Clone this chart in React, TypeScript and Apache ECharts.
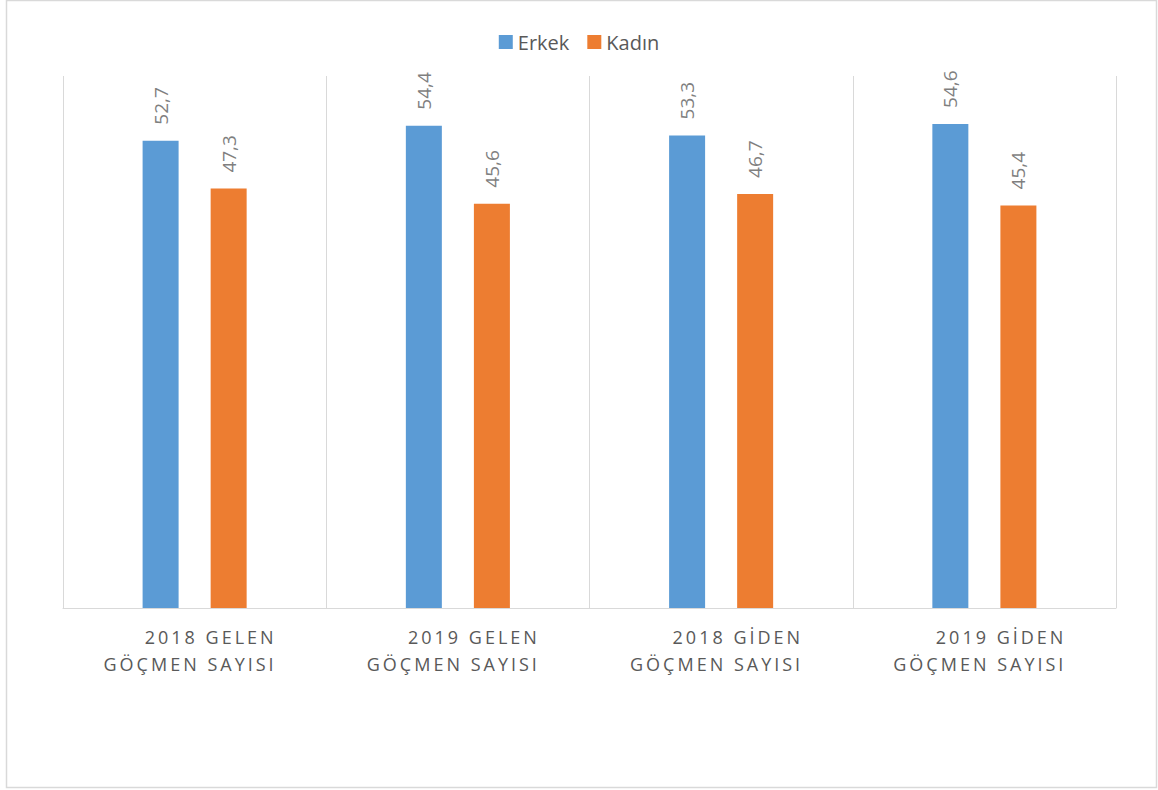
import React, { useEffect, useRef } from "react";
import * as echarts from "echarts";

const categories = [
  "2018 GELEN\nGÖÇMEN SAYISI",
  "2019 GELEN\nGÖÇMEN SAYISI",
  "2018 GİDEN\nGÖÇMEN SAYISI",
  "2019 GİDEN\nGÖÇMEN SAYISI",
];
const seriesNames = ["Erkek", "Kadın"];
const erkek = [52.7, 54.4, 53.3, 54.6];
const kadin = [47.3, 45.6, 46.7, 45.4];

const FONT = "'Open Sans', 'Noto Sans', sans-serif";

export default function App() {
  const ref = useRef<HTMLDivElement>(null);

  useEffect(() => {
    const el = ref.current;
    if (!el) return;
    const chart = echarts.init(el, undefined, { renderer: "svg" });

    const labelLines = new Set<string>();
    categories.forEach((c) => c.split("\n").forEach((l) => labelLines.add(l)));

    const fmt = (p: any) => String(p.value).replace(".", ",");
    const barLabel = {
      show: true,
      position: "top",
      rotate: 90,
      align: "left",
      verticalAlign: "middle",
      distance: 16,
      fontSize: 19,
      fontFamily: FONT,
      color: "#7f7f7f",
      formatter: fmt,
    };

    const option: any = {
      animation: false,
      backgroundColor: "#ffffff",
      textStyle: { fontFamily: FONT },
      graphic: [
        {
          type: "rect",
          shape: { x: 6.5, y: 0.5, width: 1150, height: 787 },
          style: { fill: "none", stroke: "#d9d9d9", lineWidth: 1.5 },
          silent: true,
        },
      ],
      legend: {
        data: seriesNames,
        top: 27,
        left: "center",
        icon: "rect",
        itemWidth: 14,
        itemHeight: 14,
        itemGap: 18,
        textStyle: { fontSize: 20, color: "#595959", fontFamily: FONT },
      },
      grid: { left: 63, right: 42, top: 76, bottom: 182, containLabel: false },
      xAxis: {
        type: "category",
        data: categories,
        axisTick: { show: false },
        axisLine: { show: true, lineStyle: { color: "#d9d9d9", width: 1 } },
        splitLine: { show: true, lineStyle: { color: "#d9d9d9", width: 1 } },
        axisLabel: {
          interval: 0,
          margin: 15,
          align: "center",
          width: 164,
          formatter: (v: string) =>
            v
              .split("\n")
              .map((l) => `{r|${l}}`)
              .join("\n"),
          rich: {
            r: {
              align: "right",
              fontSize: 18,
              lineHeight: 27,
              color: "#595959",
              fontFamily: FONT,
            },
          },
        },
      },
      yAxis: {
        type: "value",
        min: 0,
        max: 60,
        show: false,
        splitLine: { show: false },
      },
      series: [
        {
          name: seriesNames[0],
          type: "bar",
          data: erkek,
          barWidth: 36,
          barGap: "89%",
          itemStyle: { color: "#5b9bd5" },
          label: barLabel,
        },
        {
          name: seriesNames[1],
          type: "bar",
          data: kadin,
          barWidth: 36,
          itemStyle: { color: "#ed7d31" },
          label: barLabel,
        },
      ],
    };

    const applySpacing = () => {
      el.querySelectorAll("text").forEach((t) => {
        const s = (t.textContent || "").trim();
        if (labelLines.has(s)) t.setAttribute("letter-spacing", "3");
      });
    };
    chart.on("finished", applySpacing);
    chart.setOption(option);
    applySpacing();
    const timer = setTimeout(applySpacing, 50);

    return () => {
      clearTimeout(timer);
      chart.dispose();
    };
  }, []);

  return (
    <div
      ref={ref}
      style={{
        position: "absolute",
        left: 0,
        top: 0,
        width: 1158,
        height: 790,
        background: "#ffffff",
      }}
    />
  );
}
